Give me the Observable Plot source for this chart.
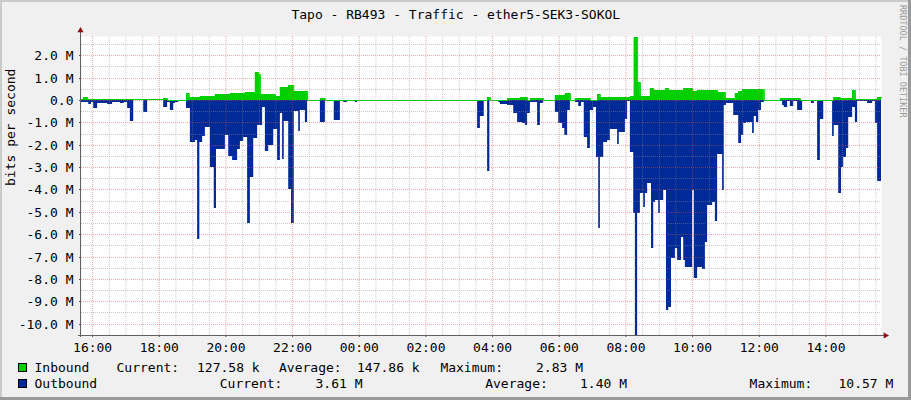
<!DOCTYPE html>
<html>
<head>
<meta charset="utf-8">
<script src="https://cdn.jsdelivr.net/npm/d3@7"></script>
<script src="https://cdn.jsdelivr.net/npm/@observablehq/plot@0.6"></script>
<style>
  html, body { margin: 0; padding: 0; background: #f0f0f0; }
  #frame { position: relative; width: 911px; height: 400px; background: #f0f0f0; overflow: hidden; font-family: "DejaVu Sans Mono", monospace; }
  #frame > * { position: absolute; }
  #title { left: 0; top: 0; }
  #chart { left: 0; top: 28px; }
  #legend { left: 0; top: 350px; }
  #wm { left: 898px; top: 5px; writing-mode: vertical-rl; font-size: 8.5px; line-height: 10px; color: #9a9a9a; white-space: nowrap; }
  .bT { left: 0; top: 0; width: 911px; height: 2px; background: #cbcbcb; }
  .bL { left: 0; top: 0; width: 2px; height: 400px; background: #cbcbcb; }
  .bR { right: 0; top: 0; width: 3px; height: 400px; background: #999; }
  .bB { left: 0; bottom: 0; width: 911px; height: 3px; background: #999; }
</style>
</head>
<body>
<div id="frame">
  <svg id="title" width="911" height="28"></svg>
  <div id="chart"></div>
  <svg id="legend" width="911" height="50"></svg>
  <div id="wm">RRDTOOL / TOBI OETIKER</div>
  <div class="bT"></div><div class="bL"></div><div class="bR"></div><div class="bB"></div>
</div>
<script>
// ---------- DATA (bits per second, in M) ----------
const titleText = "Tapo - RB493 - Traffic - ether5-SEK3-SOKOL";
const yAxisLabel = "bits per second";

// Outbound: start time of each step and its value (M)
const outTimes = ["15:40","15:53","15:58","16:02","16:09","16:14","16:27","16:36","16:50","16:57",
  "17:03","17:08","17:14","17:32","17:39","18:08","18:15","18:20","18:26","18:29",
  "18:35","18:49","18:56","19:05","19:09","19:13","19:18","19:23","19:32","19:39",
  "19:43","19:59","20:05","20:12","20:21","20:26","20:32","20:39","20:44","20:50",
  "20:57","21:06","21:11","21:17","21:26","21:33","21:38","21:42","21:45","21:53",
  "21:58","22:03","22:11","22:14","22:23","22:27","22:50","22:59","23:15","23:26",
  "23:32","23:39","23:53","23:57","00:56","01:18","01:50","01:59","02:08","02:17",
  "02:28","02:37","02:53","02:59","03:33","03:38","03:45","03:51","03:55","04:11",
  "04:14","04:27","04:38","04:45","04:54","04:59","05:03","05:08","05:21","05:26",
  "05:32","05:53","05:59","06:06","06:10","06:15","06:20","06:29","06:35","06:40",
  "06:45","06:51","06:56","07:02","07:07","07:11","07:14","07:20","07:27","07:32",
  "07:45","07:48","07:59","08:03","08:08","08:14","08:17","08:21","08:26","08:32",
  "08:35","08:39","08:46","08:50","08:53","08:59","09:02","09:08","09:13","09:17",
  "09:22","09:29","09:33","09:40","09:44","09:47","10:00","10:03","10:09","10:18",
  "10:23","10:27","10:36","10:41","10:45","10:54","10:57","11:01","11:14","11:23",
  "11:28","11:32","11:37","11:48","11:51","11:55","11:59","12:04","12:09","12:42",
  "12:45","12:51","12:56","13:02","13:09","13:18","13:34","13:39","13:45","13:50",
  "13:56","14:12","14:15","14:23","14:28","14:32","14:37","14:41","14:48","14:53",
  "14:57","15:15","15:24","15:29","15:33"];
const outValues = [0.10,0.20,0.10,0.35,0.12,0.15,0.20,0.10,0.15,0.08,
  0.35,0.95,0.02,0.55,0.00,0.30,0.10,0.45,0.15,0.10,
  0.02,0.35,1.90,1.80,6.20,1.90,1.60,1.20,3.00,4.85,
  2.20,1.55,2.50,2.70,2.20,1.85,1.65,5.50,3.45,1.70,
  1.10,0.30,2.30,2.00,1.30,2.70,0.60,2.65,0.95,4.00,
  5.50,0.50,1.40,0.45,1.00,0.05,1.00,0.00,0.90,0.05,
  0.10,0.00,0.10,0.00,0.04,0.00,0.04,0.00,0.04,0.00,
  0.04,0.00,0.04,0.00,1.24,0.70,0.00,3.16,0.00,0.07,
  0.18,0.22,0.60,0.97,1.04,1.10,0.60,0.07,1.10,0.12,
  0.00,0.52,1.01,1.24,1.57,0.45,0.00,0.07,0.25,0.07,
  1.64,2.16,0.45,0.30,2.54,5.71,2.54,1.86,1.79,1.31,
  1.97,1.42,0.87,0.03,2.31,5.07,10.57,5.07,4.18,4.77,
  4.18,3.73,6.64,4.55,4.47,5.07,4.47,4.03,9.40,9.25,
  7.08,6.64,7.16,6.11,7.16,7.46,4.03,7.98,7.46,7.58,
  6.34,4.70,4.55,5.40,2.42,4.03,0.22,0.12,0.67,1.91,
  1.57,1.04,0.97,1.49,0.72,0.97,0.45,0.07,0.03,0.22,
  0.30,0.03,0.27,0.05,0.45,0.02,0.15,0.02,2.68,0.87,
  0.03,1.61,1.12,4.18,2.98,2.54,2.16,0.75,0.33,0.97,
  0.05,0.12,0.03,1.04,3.61];

// Inbound: start time of each step and its value (M)
const inTimes = ["15:40","15:44","15:51","18:08","18:15","18:49","18:54","19:14","19:41","20:08",
  "20:35","20:53","20:59","21:02","21:29","21:38","21:53","22:02","22:27","22:50",
  "22:59","03:51","03:56","04:27","04:50","05:03","05:08","05:32","05:53","06:11",
  "06:20","06:29","06:56","07:09","07:14","08:08","08:15","08:21","08:26","08:44",
  "08:50","09:11","09:17","09:44","10:00","10:09","10:45","10:59","11:17","11:23",
  "11:30","12:09","12:38","13:14","14:14","14:26","14:48","14:53","15:33"];
const inValues = [0.03,0.13,0.03,0.07,0.02,0.33,0.13,0.20,0.28,0.30,
  0.36,1.25,1.15,0.25,0.20,0.60,0.68,0.38,0.02,0.07,
  0.02,0.12,0.02,0.07,0.12,0.02,0.07,0.02,0.22,0.30,
  0.02,0.07,0.02,0.25,0.12,0.17,2.83,0.82,0.18,0.52,
  0.45,0.52,0.45,0.52,0.42,0.45,0.37,0.07,0.30,0.42,
  0.48,0.01,0.07,0.02,0.15,0.10,0.45,0.05,0.13];

const xStart = "15:40";                       // left edge of the graph (day 1)
const xTickLabels = ["16:00","18:00","20:00","22:00","00:00","02:00","04:00","06:00","08:00","10:00","12:00","14:00"];
const yTickValues = [-10,-9,-8,-7,-6,-5,-4,-3,-2,-1,0,1,2];
const yDomain = [-10.51, 2.862];

const legendNames = ["Inbound", "Outbound"];
const legendCurrent = ["127.58 k", "3.61 M"];
const legendAverage = ["147.86 k", "1.40 M"];
const legendMaximum = ["2.83 M", "10.57 M"];

// ---------- STYLE ----------
const IN_COLOR = "#00CF00";
const OUT_COLOR = "#002A97";
const FONT = "DejaVu Sans Mono";

// ---------- BUILD ----------
const startMin = 15 * 60 + 40;
function toDate(s) {
  const [h, m] = s.split(":").map(Number);
  let min = h * 60 + m;
  if (min < startMin) min += 1440;
  return new Date(Date.UTC(2024, 0, 1, 0, min));
}
const t0 = toDate(xStart);
const t1 = new Date(+t0 + 24 * 3600 * 1000);

const outbound = outTimes.map((s, i) => ({t: toDate(s), v: outValues[i]}));
outbound.push({t: t1, v: outValues[outValues.length - 1]});
const inbound = inTimes.map((s, i) => ({t: toDate(s), v: inValues[i]}));
inbound.push({t: t1, v: inValues[inValues.length - 1]});

const xMajor = xTickLabels.map(toDate);
const xMinor = d3.utcMinute.every(30).range(t0, t1).filter(d => !(d.getUTCMinutes() === 0 && d.getUTCHours() % 2 === 0));
const yMinor = d3.range(-10.5, 2.6, 1);

const fmtY = d => d === 0 ? "0.0" : d.toFixed(1) + " M";

const chart = Plot.plot({
  width: 911,
  height: 330,
  marginLeft: 81,
  marginRight: 30,
  marginTop: 8,
  marginBottom: 23,
  style: {background: "transparent", fontFamily: FONT, fontSize: "13px", color: "#000", overflow: "visible"},
  x: {type: "utc", domain: [t0, t1]},
  y: {domain: yDomain, round: true},
  marks: [
    Plot.frame({fill: "#ffffff", stroke: "none"}),
    Plot.areaY(outbound, {x: "t", y: d => -d.v, curve: "step-after", fill: OUT_COLOR}),
    Plot.areaY(inbound, {x: "t", y: "v", curve: "step-after", fill: IN_COLOR}),
    Plot.lineY(inbound, {x: "t", y: "v", curve: "step-after", stroke: IN_COLOR, strokeWidth: 1}),
    Plot.ruleX(xMinor, {stroke: "#8c8c8c", strokeOpacity: 0.45, strokeDasharray: "1,1"}),
    Plot.ruleY(yMinor, {stroke: "#8c8c8c", strokeOpacity: 0.45, strokeDasharray: "1,1"}),
    Plot.ruleX(xMajor, {stroke: "#e05050", strokeOpacity: 0.5, strokeDasharray: "1,1"}),
    Plot.ruleY(yTickValues, {stroke: "#e05050", strokeOpacity: 0.5, strokeDasharray: "1,1"}),
    Plot.axisY({ticks: yTickValues, tickFormat: fmtY, tickSize: 2, tickPadding: 6, fontSize: 13, stroke: "#555", label: null}),
    Plot.axisX({ticks: xMajor, tickFormat: d3.utcFormat("%H:%M"), tickSize: 2, tickPadding: 5.5, fontSize: 13, stroke: "#555", label: null}),
    Plot.ruleX([t0], {stroke: "#606060", dx: -1, insetTop: -6, insetBottom: -2}),
    Plot.ruleY([yDomain[0]], {stroke: "#606060", insetLeft: -3, insetRight: -4}),
    Plot.dot([t0], {x: d => d, y: () => 3.12, symbol: "triangle", r: 2.3, fill: "#8b1010", stroke: "none", dx: -1}),
    Plot.dot([t1], {x: d => d, y: () => yDomain[0], symbol: "triangle", rotate: 90, r: 2.3, fill: "#8b1010", stroke: "none", dx: 4}),
    Plot.text([yAxisLabel], {text: d => d, frameAnchor: "left", dx: -71, rotate: -90, fontSize: 13, fill: "#000"})
  ]
});
document.getElementById("chart").appendChild(chart);

// Title
d3.select("#title").append("text")
  .attr("x", 455.8).attr("y", 18.8)
  .attr("text-anchor", "middle")
  .attr("font-family", FONT).attr("font-size", 13)
  .text(titleText);

// Legend
const lg = d3.select("#legend");
const rowY = [22, 38];
const colors = [IN_COLOR, OUT_COLOR];
const layout = [
  {cur: 116.5, curV: 197, avg: 279, avgV: 357, max: 440.4, maxV: 536},
  {cur: 219.8, curV: 315.5, avg: 485.2, avgV: 580, max: 749.6, maxV: 838.5}
];
legendNames.forEach((name, i) => {
  const y = rowY[i];
  lg.append("rect").attr("x", 18.5).attr("y", y - 8.5).attr("width", 8).attr("height", 8)
    .attr("fill", colors[i]).attr("stroke", "#000").attr("stroke-width", 1);
  const L = layout[i];
  const items = [
    [34.5, name], [L.cur, "Current:"], [L.curV, legendCurrent[i]],
    [L.avg, "Average:"], [L.avgV, legendAverage[i]],
    [L.max, "Maximum:"], [L.maxV, legendMaximum[i]]
  ];
  items.forEach(([x, s]) => {
    lg.append("text").attr("x", x).attr("y", y)
      .attr("font-family", FONT).attr("font-size", 13).attr("fill", "#000")
      .attr("xml:space", "preserve").text(s);
  });
});
</script>
</body>
</html>
